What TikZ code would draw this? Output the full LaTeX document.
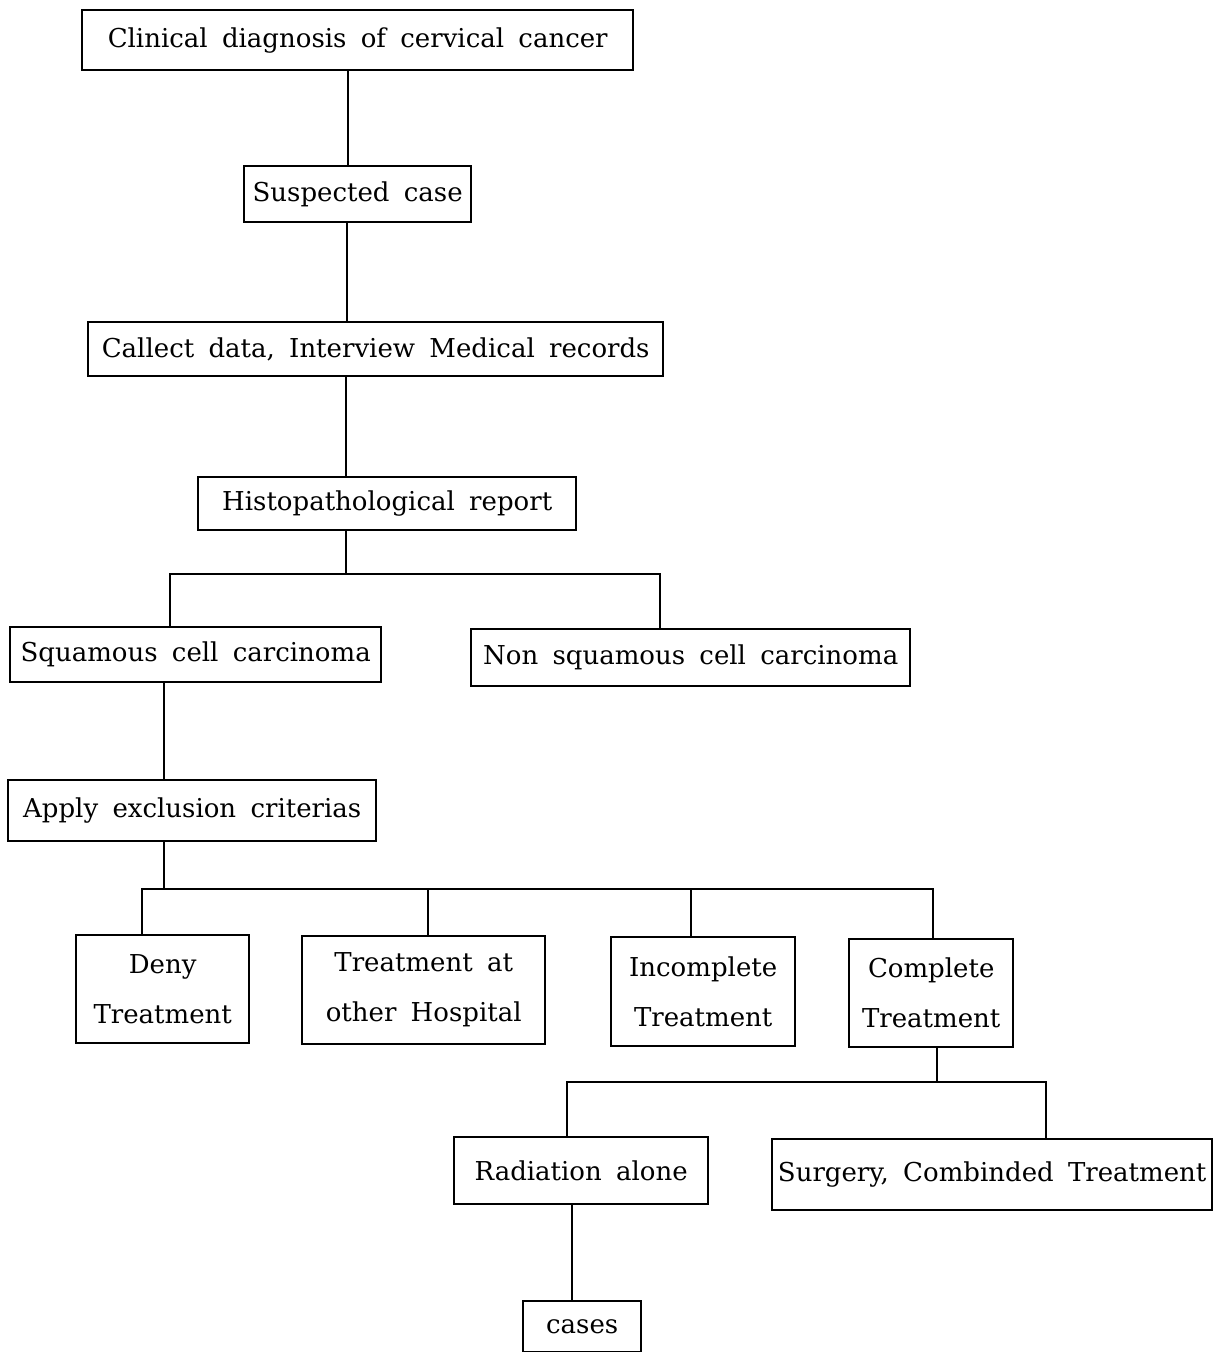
\documentclass[tikz,border=0pt]{standalone}
\usepackage{fontspec}
\setmainfont{DejaVu Serif}
\newcommand{\boxfontsel}{\fontsize{26}{50}\selectfont\spaceskip=0.55em plus 0.1em minus 0.05em\relax}
\begin{document}
\begin{tikzpicture}[x=1pt,y=-1pt,
 box/.style={draw, line width=2.4pt, inner sep=0pt, anchor=north west, align=center, font=\boxfontsel},
 conn/.style={line width=2.4pt}]
\useasboundingbox[fill=white] (0,0) rectangle (1215,1352);
% boxes
\node[box, minimum width=551pt, minimum height=60pt] (n1) at (81,9) {Clinical diagnosis of cervical cancer};
\node[box, minimum width=227pt, minimum height=56pt] (n2) at (243,165) {Suspected case};
\node[box, minimum width=575pt, minimum height=54pt] (n3) at (87,321) {Callect data, Interview Medical records};
\node[box, minimum width=378pt, minimum height=53pt] (n4) at (197,476) {Histopathological report};
\node[box, minimum width=371pt, minimum height=55pt] (n5) at (9,626) {Squamous cell carcinoma};
\node[box, minimum width=439pt, minimum height=57pt] (n6) at (470,628) {Non squamous cell carcinoma};
\node[box, minimum width=368pt, minimum height=61pt] (n7) at (7,779) {Apply exclusion criterias};
\node[box, minimum width=173pt, minimum height=108pt] (n8) at (75,934) {Deny\\Treatment};
\node[box, minimum width=243pt, minimum height=108pt] (n9) at (301,935) {Treatment at\\other Hospital};
\node[box, minimum width=184pt, minimum height=109pt] (n10) at (610,936) {Incomplete\\Treatment};
\node[box, minimum width=164pt, minimum height=108pt] (n11) at (848,938) {Complete\\Treatment};
\node[box, minimum width=254pt, minimum height=67pt] (n12) at (453,1136) {Radiation alone};
\node[box, minimum width=440pt, minimum height=71pt] (n13) at (771,1138) {Surgery, Combinded Treatment};
\node[box, minimum width=118pt, minimum height=51pt] (n14) at (522,1300) {cases};
% guide coordinates
\coordinate (x12) at (348,0);
\coordinate (x23) at (347,0);
\coordinate (b1) at (346,574);
\coordinate (b1l) at (170,574);
\coordinate (b1r) at (660,574);
\coordinate (x57) at (164,0);
\coordinate (b2) at (164,889);
\coordinate (b2a) at (142,889);
\coordinate (b2b) at (428,889);
\coordinate (b2c) at (691,889);
\coordinate (b2d) at (933,889);
\coordinate (b3) at (937,1082);
\coordinate (b3l) at (567,1082);
\coordinate (b3r) at (1046,1082);
\coordinate (x1214) at (572,0);
% connectors
\draw[conn] (n1.south -| x12) -- (n2.north -| x12);
\draw[conn] (n2.south -| x23) -- (n3.north -| x23);
\draw[conn] (n3.south -| b1) -- (n4.north -| b1);
\draw[conn] (n4.south -| b1) -- (b1);
\draw[conn] (n5.north -| b1l) -- (b1l) -- (b1r) -- (n6.north -| b1r);
\draw[conn] (n5.south -| x57) -- (n7.north -| x57);
\draw[conn] (n7.south -| b2) -- (b2);
\draw[conn] (n8.north -| b2a) -- (b2a) -- (b2d) -- (n11.north -| b2d);
\draw[conn] (b2b) -- (n9.north -| b2b);
\draw[conn] (b2c) -- (n10.north -| b2c);
\draw[conn] (n11.south -| b3) -- (b3);
\draw[conn] (n12.north -| b3l) -- (b3l) -- (b3r) -- (n13.north -| b3r);
\draw[conn] (n12.south -| x1214) -- (n14.north -| x1214);
\end{tikzpicture}
\end{document}
